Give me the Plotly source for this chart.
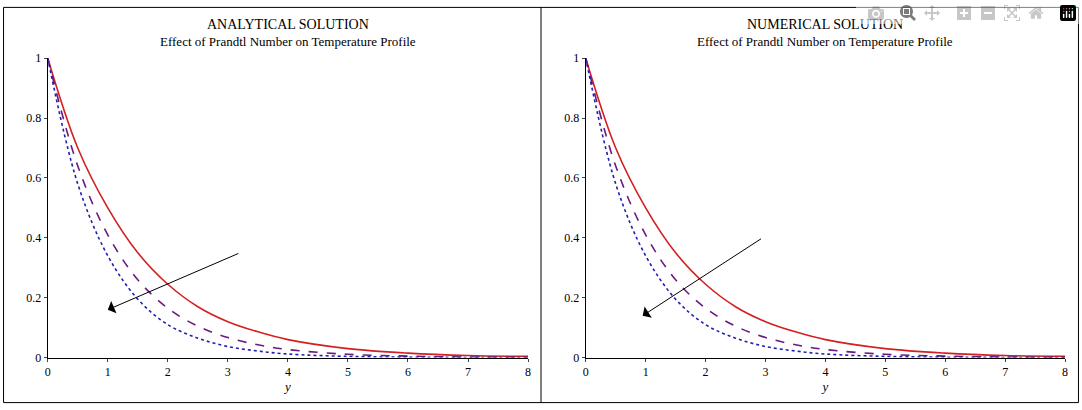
import plotly.graph_objects as go

# sample points along y and read-off values
ys = [0, 0.5, 1, 1.5, 2, 2.5, 3, 3.5, 4, 5, 6, 7, 8]
red_vals = [1, 0.70, 0.50, 0.35, 0.245, 0.17, 0.12, 0.086, 0.06, 0.03, 0.015, 0.007, 0.004]
dash_vals = [1, 0.64, 0.41, 0.26, 0.165, 0.105, 0.067, 0.043, 0.027, 0.011, 0.005, 0.002, 0.001]
dot_vals = [1, 0.58, 0.34, 0.195, 0.11, 0.065, 0.037, 0.022, 0.012, 0.004, 0.0015, 0.0005, 0.0002]

titles = ["ANALYTICAL SOLUTION", "NUMERICAL SOLUTION"]
subtitle = "Effect of Prandtl Number on Temperature Profile"
arrows = [((3.2, 0.35), (1.0, 0.16)), ((2.95, 0.40), (0.95, 0.14))]

font = "Liberation Serif"
W, H = 1082, 410
domains = [(45 / W, 528 / W), (586 / W, 1068 / W)]
ydom = (1 - 363 / H, 1 - 53 / H)

fig = go.Figure()
for i in range(2):
    xa = "x" if i == 0 else "x2"
    ya = "y" if i == 0 else "y2"
    for vals, col, dash in [(red_vals, "#d42020", "solid"),
                            (dash_vals, "#6a1a80", "dash"),
                            (dot_vals, "#2020b0", "dot")]:
        fig.add_trace(go.Scatter(x=ys, y=vals, mode="lines", xaxis=xa, yaxis=ya,
                                 line=dict(color=col, dash=dash, width=1.6, shape="spline"),
                                 showlegend=False))
    ax = dict(domain=domains[i], range=[0, 8], dtick=1, showgrid=False, zeroline=False,
              showline=True, linecolor="black", ticks="outside", ticklen=3,
              tickfont=dict(family=font, size=12, color="black"),
              title=dict(text="<i>y</i>", font=dict(family=font, size=13, color="black"), standoff=2),
              anchor=ya)
    ay = dict(domain=ydom, range=[0, 1.0], tickvals=[0, 0.2, 0.4, 0.6, 0.8, 1],
              ticktext=["0", "0.2", "0.4", "0.6", "0.8", "1"], showgrid=False, zeroline=False,
              showline=True, linecolor="black", ticks="outside", ticklen=3,
              tickfont=dict(family=font, size=12, color="black"), anchor=xa)
    if i == 0:
        fig.update_layout(xaxis=ax, yaxis=ay)
    else:
        fig.update_layout(xaxis2=ax, yaxis2=ay)
    (x0, y0), (x1, y1) = arrows[i]
    fig.add_annotation(x=x1, y=y1, ax=x0, ay=y0, xref=xa, yref=ya, axref=xa, ayref=ya,
                       showarrow=True, arrowhead=1, arrowsize=2.2, arrowwidth=1, arrowcolor="black", text="")
    cx = (domains[i][0] + domains[i][1]) / 2
    fig.add_annotation(x=cx, y=1 - 18 / H, xref="paper", yref="paper", showarrow=False,
                       xanchor="center", yanchor="middle",
                       text=titles[i], font=dict(family=font, size=14, color="black"))
    fig.add_annotation(x=cx, y=1 - 36 / H, xref="paper", yref="paper", showarrow=False,
                       xanchor="center", yanchor="middle",
                       text=subtitle, font=dict(family=font, size=13, color="black"))

fig.add_shape(type="rect", xref="paper", yref="paper", x0=0.0005, y0=0.001, x1=0.9995, y1=0.999,
              line=dict(color="black", width=1))
fig.add_shape(type="line", xref="paper", yref="paper", x0=541 / W, x1=541 / W, y0=0, y1=1,
              line=dict(color="black", width=1))

fig.update_layout(width=W, height=H, margin=dict(l=0, r=0, t=0, b=0),
                  plot_bgcolor="white", paper_bgcolor="white")
fig.write_html("out.html", post_script="document.body.style.margin='0';")
